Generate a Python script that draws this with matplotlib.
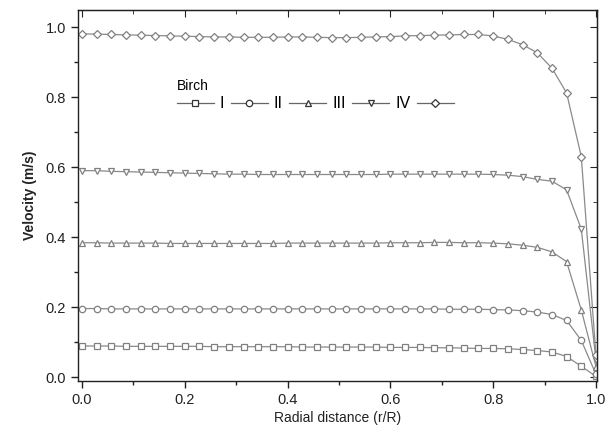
import numpy as np
import matplotlib
matplotlib.use("Agg")
import matplotlib.pyplot as plt
from matplotlib.ticker import MultipleLocator

plt.rcParams['font.family'] = ['Liberation Sans', 'DejaVu Sans']

# radial positions r/R (36 points)
r = [i / 35 for i in range(36)]

v_I = [0.089, 0.089, 0.089, 0.088, 0.088, 0.088, 0.088, 0.088, 0.088, 0.087,
       0.087, 0.087, 0.087, 0.087, 0.087, 0.086, 0.086, 0.086, 0.086, 0.086,
       0.086, 0.085, 0.085, 0.085, 0.084, 0.084, 0.083, 0.082, 0.082, 0.081,
       0.079, 0.076, 0.072, 0.059, 0.031, 0.002]
v_II = [0.196, 0.196, 0.195, 0.195, 0.195, 0.195, 0.195, 0.195, 0.195, 0.195,
        0.195, 0.195, 0.195, 0.195, 0.195, 0.195, 0.195, 0.195, 0.195, 0.195,
        0.195, 0.195, 0.195, 0.195, 0.195, 0.194, 0.194, 0.194, 0.193, 0.192,
        0.190, 0.186, 0.179, 0.162, 0.105, 0.008]
v_III = [0.384, 0.384, 0.383, 0.383, 0.383, 0.383, 0.382, 0.382, 0.382, 0.382,
         0.382, 0.382, 0.382, 0.382, 0.383, 0.383, 0.383, 0.383, 0.383, 0.383,
         0.383, 0.384, 0.384, 0.384, 0.385, 0.385, 0.384, 0.384, 0.383, 0.381,
         0.377, 0.371, 0.358, 0.330, 0.192, 0.030]
v_IV = [0.590, 0.590, 0.588, 0.587, 0.586, 0.585, 0.584, 0.583, 0.582, 0.581,
        0.580, 0.580, 0.579, 0.579, 0.579, 0.579, 0.579, 0.579, 0.579, 0.579,
        0.579, 0.580, 0.580, 0.580, 0.580, 0.580, 0.580, 0.580, 0.579, 0.577,
        0.573, 0.565, 0.560, 0.535, 0.423, 0.048]
v_V = [0.981, 0.980, 0.979, 0.978, 0.977, 0.976, 0.975, 0.974, 0.973, 0.972,
       0.972, 0.971, 0.971, 0.971, 0.972, 0.972, 0.971, 0.970, 0.970, 0.971,
       0.972, 0.973, 0.975, 0.976, 0.977, 0.978, 0.979, 0.979, 0.975, 0.965,
       0.950, 0.927, 0.883, 0.812, 0.630, 0.062]

series = [v_I, v_II, v_III, v_IV, v_V]
labels = ['I', 'II', 'III', 'IV', ' ']
markers = ['s', 'o', '^', 'v', 'D']
msizes = [4.0, 4.6, 5.0, 5.0, 4.4]

fig = plt.figure(figsize=(6.16, 4.43), dpi=100)
ax = fig.add_axes([78/616, 1 - 381/443, (597-78)/616, (381-10)/443])

for v, lab, m, ms in zip(series, labels, markers, msizes):
    ax.plot(r, v, color='#8a8a8a', lw=0.9, marker=m, ms=ms,
            mfc='white', mec='#808080', mew=0.9, label=lab)

ax.set_xlim(-0.0078, 1.002)
ax.set_ylim(-0.011, 1.049)
ax.xaxis.set_major_locator(MultipleLocator(0.2))
ax.xaxis.set_minor_locator(MultipleLocator(0.1))
ax.yaxis.set_major_locator(MultipleLocator(0.2))
ax.yaxis.set_minor_locator(MultipleLocator(0.1))
ax.xaxis.set_major_formatter(matplotlib.ticker.FormatStrFormatter('%.1f'))
ax.yaxis.set_major_formatter(matplotlib.ticker.FormatStrFormatter('%.1f'))

ax.tick_params(which='both', direction='out', top=False, right=False,
               labelsize=10.5, width=1, colors='#222222')
ax.tick_params(which='major', length=5)
ax.tick_params(which='minor', length=3)
for s in ax.spines.values():
    s.set_linewidth(1.0)
    s.set_color('#222222')

# mirrored inward ticks on top/right
axt = ax.secondary_xaxis('top')
axt.xaxis.set_major_locator(MultipleLocator(0.2))
axt.xaxis.set_minor_locator(MultipleLocator(0.1))
axt.tick_params(which='both', direction='in', labeltop=False, colors='#222222')
axt.tick_params(which='major', length=5)
axt.tick_params(which='minor', length=3)
axr = ax.secondary_yaxis('right')
axr.yaxis.set_major_locator(MultipleLocator(0.2))
axr.yaxis.set_minor_locator(MultipleLocator(0.1))
axr.tick_params(which='both', direction='in', labelright=False, colors='#222222')
axr.tick_params(which='major', length=5)
axr.tick_params(which='minor', length=3)

ax.set_xlabel('Radial distance (r/R)', fontsize=10, labelpad=3, color='#222222')
ax.set_ylabel('Velocity (m/s)', fontsize=10, fontweight='bold', labelpad=6, color='#222222')

leg = ax.legend(ncol=5, frameon=False, title='Birch', loc='upper left',
                bbox_to_anchor=(0.175, 0.835), fontsize=11.5,
                title_fontsize=10, handlelength=2.3, handletextpad=0.4,
                columnspacing=0.4, borderpad=0, labelspacing=0.2,
                alignment='left')
for h in leg.legend_handles:
    h.set_markeredgecolor('#333333')
    h.set_color('#666666')

fig.savefig('out.png', dpi=100)
